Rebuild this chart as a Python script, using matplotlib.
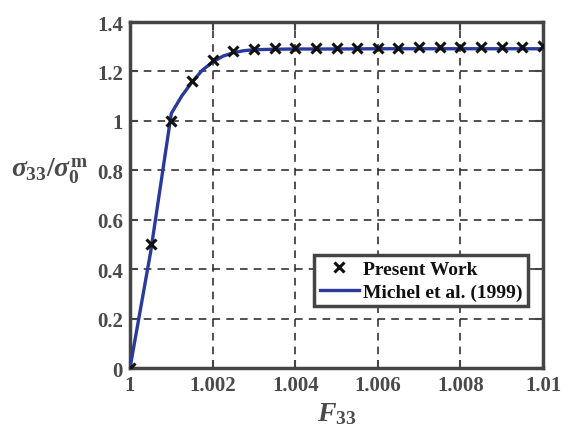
import matplotlib
matplotlib.use("Agg")
import matplotlib.pyplot as plt
import numpy as np

# Present Work (markers)
pw_F = [1.0, 1.0005, 1.001, 1.0015, 1.002, 1.0025, 1.003, 1.0035, 1.004, 1.0045,
        1.005, 1.0055, 1.006, 1.0065, 1.007, 1.0075, 1.008, 1.0085, 1.009, 1.0095, 1.01]
pw_S = [0.0, 0.50, 1.00, 1.16, 1.245, 1.283, 1.292, 1.294, 1.295, 1.296,
        1.296, 1.296, 1.297, 1.297, 1.298, 1.298, 1.299, 1.299, 1.300, 1.300, 1.302]

# Michel et al. (1999) (line)
mi_F = [1.0, 1.0005, 1.001, 1.00125, 1.0015, 1.00175, 1.002, 1.00225, 1.0025, 1.00275,
        1.003, 1.0035, 1.004, 1.005, 1.006, 1.007, 1.008, 1.009, 1.01]
mi_S = [0.0, 0.47, 1.03, 1.10, 1.157, 1.205, 1.238, 1.262, 1.276, 1.284,
        1.288, 1.290, 1.291, 1.291, 1.292, 1.292, 1.292, 1.292, 1.292]

xticks = [1.0, 1.002, 1.004, 1.006, 1.008, 1.01]
xticklabels = ["1", "1.002", "1.004", "1.006", "1.008", "1.01"]
yticks = [0, 0.2, 0.4, 0.6, 0.8, 1.0, 1.2, 1.4]
yticklabels = ["0", "0.2", "0.4", "0.6", "0.8", "1", "1.2", "1.4"]

plt.rcParams['font.family'] = ['Liberation Serif', 'DejaVu Serif']
plt.rcParams['mathtext.fontset'] = 'custom'
plt.rcParams['mathtext.rm'] = 'Liberation Serif:bold'
plt.rcParams['mathtext.it'] = 'Liberation Serif:italic:bold'
plt.rcParams['mathtext.bf'] = 'Liberation Serif:bold'

fig = plt.figure(figsize=(5.64, 4.35), dpi=100)
ax = fig.add_axes([0.2305, 0.1517, 0.7323, 0.7953])

spine_c = '#444444'
text_c = '#4a4a4a'

ax.plot(mi_F, mi_S, color='#2a3a9c', lw=2.4, label='Michel et al. (1999)', zorder=3)
ax.plot(pw_F, pw_S, ls='none', marker='x', ms=7, mew=2.2, color='#111111',
        label='Present Work', zorder=4)

ax.set_xlim(1.0, 1.01)
ax.set_ylim(0, 1.4)
ax.set_xticks(xticks)
ax.set_xticklabels(xticklabels)
ax.set_yticks(yticks)
ax.set_yticklabels(yticklabels)

for lab in ax.get_xticklabels() + ax.get_yticklabels():
    lab.set_fontweight('bold')
    lab.set_fontsize(15)
    lab.set_color(text_c)

ax.tick_params(direction='in', length=6, width=1.5, color=spine_c,
               top=True, right=True, pad=5)

ax.grid(True, color='#222222', ls=(0, (5, 4)), lw=1.1)
ax.set_axisbelow(True)

for s in ax.spines.values():
    s.set_color(spine_c)
    s.set_linewidth(2.5)

ax.set_xlabel(r'$\mathit{F}_{\mathit{33}}$', fontsize=20, color=text_c, labelpad=4)
ax.set_ylabel(r'$\mathit{\sigma}_{\mathbf{33}}/\mathit{\sigma}_{\mathbf{0}}^{\mathbf{m}}$', fontsize=20,
              color=text_c, rotation=0, va='center', ha='center')
ax.yaxis.set_label_coords(-0.195, 0.57)

handles, labels = ax.get_legend_handles_labels()
leg = ax.legend(handles[::-1], labels[::-1], loc='lower right',
                bbox_to_anchor=(0.987, 0.15), fancybox=False,
                edgecolor=spine_c, framealpha=1, borderpad=0.3,
                handlelength=2.0, handletextpad=0.2, labelspacing=0.25,
                prop={'family': 'Liberation Serif', 'weight': 'bold', 'size': 14})
leg.get_frame().set_linewidth(2.5)
for t in leg.get_texts():
    t.set_color('#111111')

fig.savefig('out.png', dpi=100)
